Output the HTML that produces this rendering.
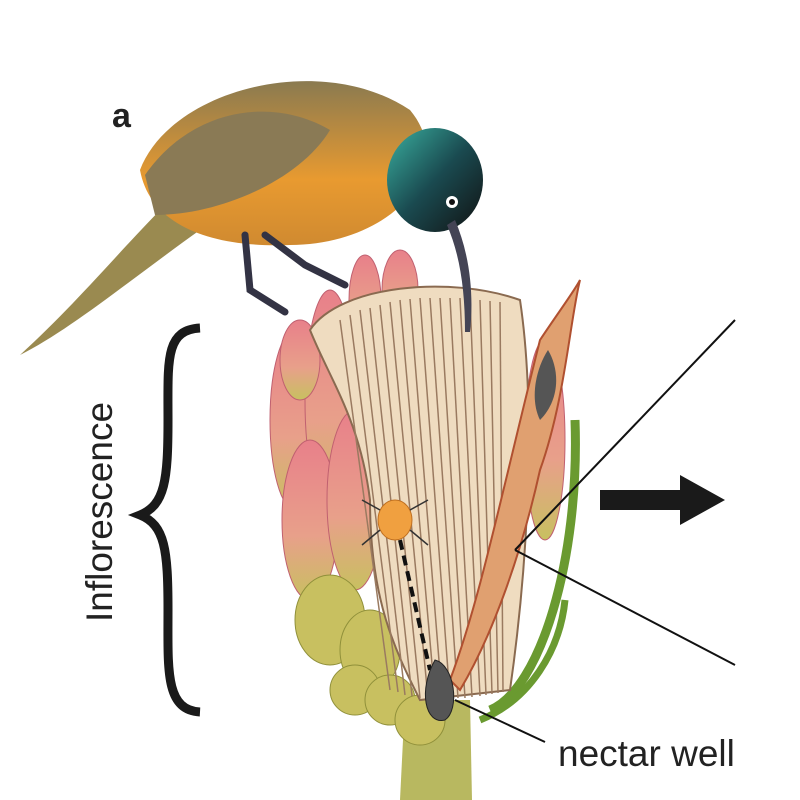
<!DOCTYPE html>
<html><head><meta charset="utf-8"><style>
html,body{margin:0;padding:0;background:#fff;width:800px;height:800px;overflow:hidden}
</style></head><body>
<svg width="800" height="800" viewBox="0 0 800 800" xmlns="http://www.w3.org/2000/svg">
<defs>
<linearGradient id="bract" x1="0" y1="0" x2="0" y2="1">
<stop offset="0" stop-color="#e8808a"/><stop offset="0.6" stop-color="#e8a08a"/><stop offset="1" stop-color="#c8c060"/>
</linearGradient>
<linearGradient id="body" x1="0" y1="0" x2="0" y2="1">
<stop offset="0" stop-color="#8a7a50"/><stop offset="0.6" stop-color="#e89a30"/><stop offset="1" stop-color="#d08a30"/>
</linearGradient>
<linearGradient id="head" x1="0" y1="0" x2="1" y2="1">
<stop offset="0" stop-color="#3ab0a0"/><stop offset="0.5" stop-color="#1a4a50"/><stop offset="1" stop-color="#111"/>
</linearGradient>
</defs>
<text x="112" y="127" font-family="Liberation Sans, sans-serif" font-weight="bold" font-size="34" fill="#222">a</text>
<path d="M200 328 C165 330 168 360 168 420 C168 480 165 505 140 515 C165 525 168 550 168 610 C168 670 165 710 200 712" fill="none" stroke="#1a1a1a" stroke-width="9"/>
<text transform="translate(112 512) rotate(-90)" text-anchor="middle" font-family="Liberation Sans, sans-serif" font-size="37" fill="#222">Inflorescence</text>
<path d="M405 700 L470 700 L472 800 L400 800 Z" fill="#b8b860"/>
<path d="M490 710 C540 690 580 560 575 420" fill="none" stroke="#6a9a30" stroke-width="9"/>
<path d="M480 720 C530 700 560 650 565 600" fill="none" stroke="#6a9a30" stroke-width="7"/>
<g fill="url(#bract)" stroke="#c06070" stroke-width="1">
<ellipse cx="295" cy="420" rx="25" ry="90"/>
<ellipse cx="330" cy="400" rx="25" ry="110"/>
<ellipse cx="300" cy="360" rx="20" ry="40"/>
<ellipse cx="310" cy="520" rx="28" ry="80"/>
<ellipse cx="355" cy="500" rx="28" ry="90"/>
<ellipse cx="545" cy="440" rx="20" ry="100"/>
<ellipse cx="400" cy="290" rx="18" ry="40"/>
<ellipse cx="365" cy="300" rx="16" ry="45"/>
</g>
<g fill="#c8c060" stroke="#90903a" stroke-width="1">
<ellipse cx="330" cy="620" rx="35" ry="45"/>
<ellipse cx="370" cy="650" rx="30" ry="40"/>
<ellipse cx="355" cy="690" rx="25" ry="25"/>
<ellipse cx="390" cy="700" rx="25" ry="25"/>
<ellipse cx="420" cy="720" rx="25" ry="25"/>
</g>
<path d="M310 330 C340 285 450 275 520 300 C535 400 530 550 510 690 L420 700 C395 650 370 600 370 500 C360 420 330 380 310 330 Z" fill="#efdcc0" stroke="#8a6a50" stroke-width="2"/>
<g stroke="#9a7a60" stroke-width="1.5">
<line x1="340" y1="320" x2="390" y2="690"/><line x1="350" y1="315" x2="398" y2="692"/><line x1="360" y1="310" x2="405" y2="695"/>
<line x1="370" y1="308" x2="412" y2="696"/><line x1="380" y1="305" x2="420" y2="698"/><line x1="390" y1="302" x2="428" y2="698"/><line x1="400" y1="300" x2="435" y2="698"/>
<line x1="410" y1="299" x2="442" y2="698"/><line x1="420" y1="298" x2="450" y2="698"/><line x1="430" y1="298" x2="458" y2="698"/><line x1="440" y1="298" x2="465" y2="698"/>
<line x1="450" y1="298" x2="472" y2="697"/><line x1="460" y1="298" x2="480" y2="696"/><line x1="470" y1="299" x2="486" y2="695"/><line x1="480" y1="300" x2="492" y2="694"/>
<line x1="490" y1="301" x2="498" y2="693"/><line x1="500" y1="302" x2="503" y2="692"/>
</g>
<path d="M540 340 C560 310 575 290 580 280 C570 320 565 400 540 470 C520 560 490 640 460 690 L450 680 C480 600 500 500 540 340 Z" fill="#e0a070" stroke="#b05030" stroke-width="2"/>
<path d="M548 350 C560 370 560 400 540 420 C530 400 535 370 548 350 Z" fill="#555"/>
<ellipse cx="395" cy="520" rx="17" ry="20" fill="#f0a040" stroke="#c07020"/>
<g stroke="#333" stroke-width="1.5"><line x1="380" y1="510" x2="362" y2="500"/><line x1="410" y1="510" x2="428" y2="500"/><line x1="380" y1="530" x2="362" y2="545"/><line x1="410" y1="530" x2="428" y2="545"/></g>
<path d="M400 540 L430 670" stroke="#111" stroke-width="4" stroke-dasharray="10 6"/>
<path d="M435 660 C455 665 460 710 445 720 C425 725 418 690 435 660 Z" fill="#555" stroke="#222"/>
<!-- bird -->
<path d="M20 355 C80 300 120 250 170 200 L200 230 C130 280 70 330 20 355 Z" fill="#9a8a50"/>
<path d="M140 170 C170 90 320 50 410 110 C460 170 390 245 290 245 C210 248 150 225 140 170 Z" fill="url(#body)"/>
<path d="M145 175 C190 110 270 95 330 130 C300 180 220 215 155 215 Z" fill="#8a7a55"/>
<ellipse cx="435" cy="180" rx="48" ry="52" fill="url(#head)"/>
<circle cx="452" cy="202" r="6" fill="#fff"/><circle cx="452" cy="202" r="3" fill="#111"/>
<path d="M455 220 C470 255 474 295 470 332 L465 332 C465 290 460 255 447 225 Z" fill="#445"/>
<g stroke="#334" stroke-width="7" fill="none" stroke-linecap="round">
<path d="M245 235 L250 290 L285 312"/><path d="M265 235 L305 265 L345 285"/>
</g>
<g stroke="#111" stroke-width="2">
<line x1="515" y1="550" x2="735" y2="320"/>
<line x1="515" y1="550" x2="735" y2="665"/>
<line x1="455" y1="700" x2="545" y2="742"/>
</g>
<path d="M600 490 L680 490 L680 475 L725 500 L680 525 L680 510 L600 510 Z" fill="#1a1a1a"/>
<text x="558" y="766" font-family="Liberation Sans, sans-serif" font-size="37" fill="#222">nectar well</text>
</svg>
</body></html>
